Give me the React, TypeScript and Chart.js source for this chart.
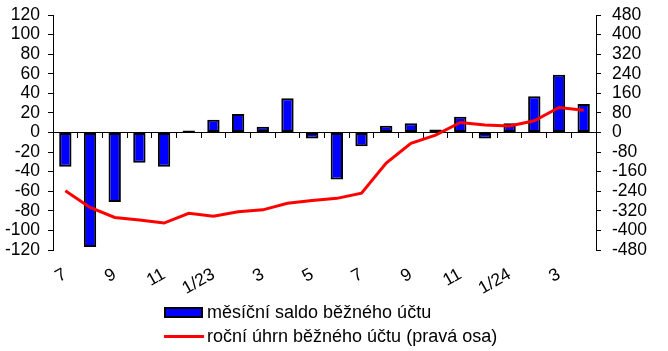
import React, { useEffect, useRef } from "react";
import { Chart, registerables } from "chart.js";

Chart.register(...registerables);

const categories = [
  "7", "8", "9", "10", "11", "12",
  "1/23", "2", "3", "4", "5", "6", "7", "8", "9", "10", "11", "12",
  "1/24", "2", "3", "4",
];

const monthlyBalance = [
  -35, -117, -71, -31, -35, 2, 13, 19, 6, 35, -6, -48,
  -14, 7, 9.5, 3, 16, -6, 9.5, 37, 59, 29,
];

const annualSum = [
  -238, -306, -347, -357, -370, -330, -342, -324, -316, -289, -278, -269,
  -248, -125, -44, -11, 41, 31, 27, 48, 102, 91,
];

const barLabel = "měsíční saldo běžného účtu";
const lineLabel = "roční úhrn běžného účtu (pravá osa)";

const FONT = "'Liberation Sans', Arial, sans-serif";

export default function App() {
  const ref = useRef<HTMLCanvasElement | null>(null);

  useEffect(() => {
    if (!ref.current) return;
    const chart = new Chart(ref.current, {
      type: "bar",
      data: {
        labels: categories,
        datasets: [
          {
            type: "line",
            label: lineLabel,
            data: annualSum,
            yAxisID: "y1",
            xAxisID: "x",
            borderColor: "#ff0000",
            borderWidth: 3,
            pointRadius: 0,
            tension: 0,
            fill: false,
            order: 0,
          } as any,
          {
            type: "bar",
            label: barLabel,
            data: monthlyBalance,
            yAxisID: "y",
            xAxisID: "x",
            backgroundColor: "#0000ff",
            borderColor: "#000000",
            borderWidth: 2,
            borderSkipped: false,
            barPercentage: 0.5,
            categoryPercentage: 1,
            order: 1,
          } as any,
        ],
      },
      options: {
        animation: false,
        responsive: true,
        maintainAspectRatio: false,
        layout: { padding: { top: 15, left: 0, right: 0, bottom: 0 } },
        plugins: {
          legend: { display: false },
          tooltip: { enabled: false },
        },
        scales: {
          x: {
            type: "category",
            position: { y: 0 } as any,
            offset: true,
            grid: {
              display: true,
              offset: true,
              drawOnChartArea: false,
              drawTicks: true,
              tickLength: 5,
              color: "#000",
            },
            border: { display: true, color: "#000", width: 1 },
            ticks: { display: false },
          },
          xl: {
            type: "category",
            position: "bottom",
            offset: true,
            grid: { display: false, drawTicks: false },
            border: { display: false },
            ticks: {
              autoSkip: false,
              minRotation: 30,
              maxRotation: 30,
              padding: 14,
              color: "#000",
              font: { family: FONT, size: 17.5 },
              callback: function (this: any, value: any, index: number) {
                return index % 2 === 0 ? this.getLabelForValue(value) : "";
              },
            },
            afterFit: (scale: any) => {
              scale.height = 101;
            },
          },
          y: {
            position: "left",
            min: -120,
            max: 120,
            grid: {
              drawOnChartArea: false,
              drawTicks: true,
              tickLength: 5,
              color: "#000",
            },
            border: { display: true, color: "#000", width: 1 },
            ticks: {
              stepSize: 20,
              autoSkip: false,
              padding: 8,
              color: "#000",
              font: { family: FONT, size: 17.5 },
            },
            afterFit: (scale: any) => {
              scale.width = 53;
              scale.paddingTop = 0;
              scale.paddingBottom = 0;
            },
          },
          y1: {
            position: "right",
            min: -480,
            max: 480,
            grid: {
              drawOnChartArea: false,
              drawTicks: true,
              tickLength: 5,
              color: "#000",
            },
            border: { display: true, color: "#000", width: 1 },
            ticks: {
              stepSize: 80,
              autoSkip: false,
              padding: 11,
              color: "#000",
              font: { family: FONT, size: 17.5 },
            },
            afterFit: (scale: any) => {
              scale.width = 72;
              scale.paddingTop = 0;
              scale.paddingBottom = 0;
            },
          },
        },
      },
    });
    return () => chart.destroy();
  }, []);

  return (
    <div
      style={{
        position: "fixed",
        left: 0,
        top: 0,
        width: 668,
        height: 351,
        background: "#fff",
      }}
    >
      <div style={{ position: "absolute", left: 0, top: 0, width: 668, height: 351 }}>
        <canvas ref={ref} />
      </div>
      <div
        style={{
          position: "absolute",
          left: 164,
          top: 300,
          fontFamily: FONT,
          fontSize: 18,
          color: "#000",
          lineHeight: "24px",
        }}
      >
        <div style={{ display: "flex", alignItems: "center", height: 24 }}>
          <span
            style={{
              display: "inline-block",
              width: 39,
              height: 11,
              background: "#0000ff",
              border: "2px solid #000",
              boxSizing: "border-box",
              marginRight: 4,
            }}
          />
          <span>{barLabel}</span>
        </div>
        <div style={{ display: "flex", alignItems: "center", height: 24 }}>
          <span
            style={{
              display: "inline-block",
              width: 40,
              height: 3,
              background: "#ff0000",
              marginRight: 3,
            }}
          />
          <span>{lineLabel}</span>
        </div>
      </div>
    </div>
  );
}
